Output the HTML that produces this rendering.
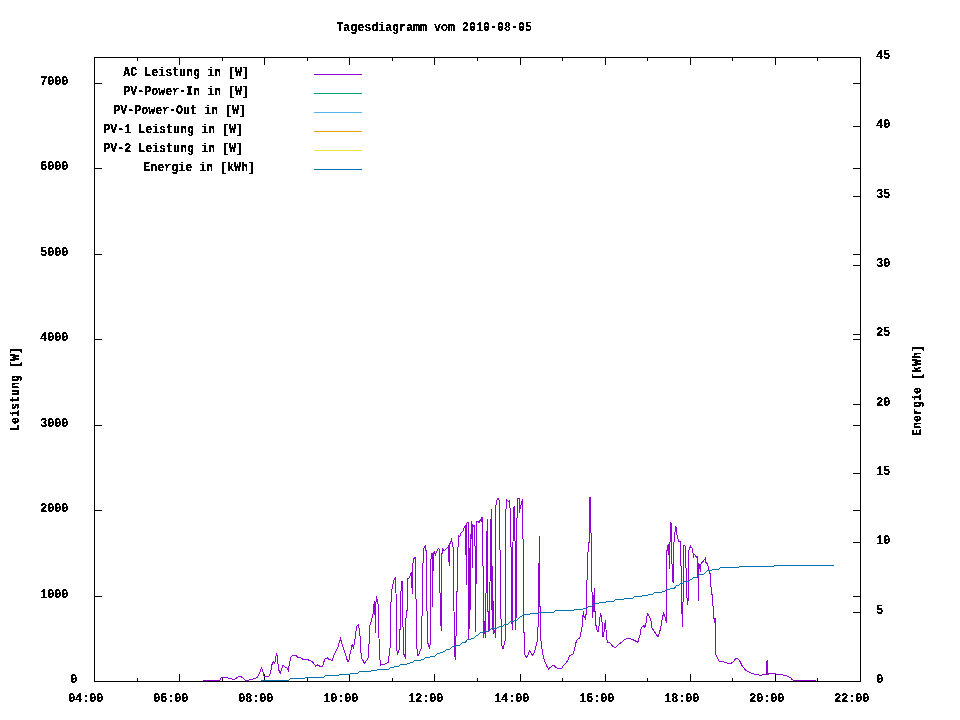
<!DOCTYPE html>
<html><head><meta charset="utf-8"><title>Tagesdiagramm vom 2010-08-05</title>
<style>html,body{margin:0;padding:0;background:#fff;}svg{display:block;}text{font-family:"Liberation Mono",monospace;font-weight:bold;font-size:11.665px;letter-spacing:-0.000px;fill:#000;}</style></head><body>
<svg width="960" height="720" viewBox="0 0 960 720">
<rect x="0" y="0" width="960" height="720" fill="#fff"/>
<path d="M94.5 682 v-8 M94.5 57 v8 M137.5 682 v-4 M137.5 57 v4 M179.5 682 v-8 M179.5 57 v8 M222.5 682 v-4 M222.5 57 v4 M264.5 682 v-8 M264.5 57 v8 M307.5 682 v-4 M307.5 57 v4 M349.5 682 v-8 M349.5 57 v8 M392.5 682 v-4 M392.5 57 v4 M434.5 682 v-8 M434.5 57 v8 M477.5 682 v-4 M477.5 57 v4 M520.5 682 v-8 M520.5 57 v8 M562.5 682 v-4 M562.5 57 v4 M605.5 682 v-8 M605.5 57 v8 M647.5 682 v-4 M647.5 57 v4 M690.5 682 v-8 M690.5 57 v8 M732.5 682 v-4 M732.5 57 v4 M775.5 682 v-8 M775.5 57 v8 M817.5 682 v-4 M817.5 57 v4 M860.5 682 v-8 M860.5 57 v8 M94 681.5 h8 M861 681.5 h-8 M94 596.5 h8 M861 596.5 h-8 M94 510.5 h8 M861 510.5 h-8 M94 425.5 h8 M861 425.5 h-8 M94 339.5 h8 M861 339.5 h-8 M94 254.5 h8 M861 254.5 h-8 M94 168.5 h8 M861 168.5 h-8 M94 83.5 h8 M861 83.5 h-8 M861 681.5 h-8 M861 612.5 h-8 M861 542.5 h-8 M861 473.5 h-8 M861 404.5 h-8 M861 334.5 h-8 M861 265.5 h-8 M861 196.5 h-8 M861 126.5 h-8 M861 57.5 h-8" stroke="#000" stroke-width="1" fill="none" shape-rendering="crispEdges"/>
<rect x="94.5" y="57.5" width="766" height="624" stroke="#000" stroke-width="1" fill="none" shape-rendering="crispEdges"/>
<polyline points="202.50,680.50 219.50,680.50 221.50,677.50 226.50,677.50 229.50,678.50 234.50,679.50 237.50,677.20 240.80,676.20 245.50,680.50 247.50,680.50 252.50,679.20 257.30,677.50 259.20,673.70 261.40,668.10 262.50,669.50 263.90,675.60 264.80,676.60 268.60,676.60 270.50,672.80 271.90,664.80 273.30,661.60 274.70,663.50 275.60,657.80 276.60,653.50 277.50,657.50 278.40,669.10 280.30,673.30 281.70,669.10 283.10,665.30 285.50,667.20 287.30,668.10 288.30,670.50 289.70,662.50 291.10,656.90 292.50,655.50 296.20,655.50 297.60,657.30 300.50,657.80 302.80,659.20 307.50,659.50 309.40,660.60 312.20,661.40 313.60,663.50 315.90,666.20 317.80,664.80 319.70,666.20 322.50,666.20 324.80,659.20 327.20,657.80 329.50,659.70 332.30,660.20 334.20,654.20 337.50,648.30 340.50,638.70 342.50,645.50 345.10,653.20 347.60,661.40 348.80,661.70 350.20,653.20 352.20,644.70 353.60,648.10 354.90,639.70 356.60,626.10 358.50,624.40 359.50,631.20 360.50,639.70 361.20,657.50 364.60,663.40 368.50,657.50 369.70,626.10 372.20,617.60 373.60,610.80 374.20,601.50 375.10,615.90 375.60,632.90 376.10,596.40 376.90,602.40 377.60,599.50 378.50,609.20 379.30,654.90 380.70,665.10 383.20,664.70 388.30,662.50 390.50,643.50 390.80,605.80 391.70,590.50 393.90,580.30 395.10,577.50 395.60,577.20 396.50,612.60 396.80,648.70 397.40,653.70 398.90,650.90 399.70,645.90 400.60,600.50 401.40,582.20 402.60,581.10 402.80,620.50 403.90,654.20 405.50,658.70 405.60,649.80 406.10,610.90 407.20,610.30 407.40,578.90 408.90,578.50 410.50,574.40 411.50,572.80 411.90,583.30 412.20,594.40 412.50,565.60 413.30,561.10 414.40,557.20 415.60,557.20 415.90,598.90 416.70,599.40 416.90,645.90 417.20,655.30 418.60,655.30 420.50,649.80 421.70,647.60 422.20,598.90 423.30,550.50 424.40,546.10 425.60,545.60 425.80,550.60 426.40,550.60 426.80,594.40 427.40,643.10 428.60,644.20 429.40,648.70 430.30,643.10 430.50,596.10 431.10,553.30 432.20,553.30 432.60,606.50 433.20,555.50 433.90,552.80 434.40,552.20 435.50,554.70 436.20,552.60 437.30,550.60 438.30,548.50 439.20,549.20 439.60,570.70 440.30,608.50 441.20,630.50 441.70,557.50 442.40,548.50 443.80,550.60 445.20,549.90 447.30,547.80 448.40,546.40 448.70,554.70 449.20,565.80 449.60,543.60 450.80,542.90 451.40,538.50 452.10,542.20 452.80,543.60 453.50,556.10 454.40,653.90 455.60,659.60 456.30,619.40 457.30,580.50 457.70,556.80 458.40,535.30 459.80,536.50 461.20,532.50 462.30,531.80 463.20,530.40 464.20,527.60 465.30,526.30 465.80,554.70 466.10,524.50 466.40,584.50 466.80,523.50 467.40,522.10 468.20,522.10 468.40,638.60 469.30,624.50 469.80,548.50 470.40,548.50 470.60,609.50 471.10,521.20 471.90,521.90 472.20,567.50 472.60,524.50 473.30,525.30 474.30,528.10 474.90,525.30 475.30,600.50 475.80,631.70 476.30,521.20 477.50,521.90 478.50,521.20 479.10,522.60 480.20,519.80 481.20,521.20 481.90,517.70 482.50,517.50 482.70,565.60 483.10,566.30 483.40,637.60 484.30,620.60 485.20,637.60 486.30,576.70 487.20,519.10 487.70,574.50 488.20,632.40 488.90,615.50 489.50,630.50 490.50,536.40 491.30,509.40 491.60,565.60 492.20,629.80 492.70,565.60 493.30,633.70 494.80,629.80 495.40,637.60 495.80,505.90 496.50,501.50 497.90,498.30 498.80,498.90 499.70,503.10 499.90,540.60 500.20,562.80 500.60,590.60 501.30,637.60 502.20,648.50 503.20,648.50 504.60,642.80 505.20,640.20 505.50,567.50 506.10,499.60 507.50,500.30 508.90,501.70 509.80,500.30 510.30,518.40 510.70,508.70 511.20,568.40 512.10,629.80 512.60,569.80 513.50,509.40 513.70,508.50 514.40,505.90 514.80,525.30 515.40,569.80 515.90,629.80 516.50,569.80 517.20,500.30 517.90,498.30 519.50,498.90 519.60,512.80 520.40,505.90 521.40,504.50 522.30,498.90 522.80,538.50 523.40,539.20 523.80,609.50 524.20,652.50 525.50,655.90 526.80,657.80 528.20,654.60 529.50,650.70 530.80,652.60 532.50,655.20 534.50,652.50 535.30,648.50 536.60,644.10 537.70,637.60 538.20,620.60 538.70,586.40 539.40,536.40 539.80,590.50 540.20,620.50 540.70,638.50 542.50,652.50 543.50,657.50 544.20,659.30 546.40,665.50 548.50,669.20 550.60,667.10 553.50,665.30 554.90,666.40 557.50,668.50 561.50,668.50 563.40,665.70 566.20,662.90 568.30,659.30 569.50,655.80 571.20,655.10 573.30,653.70 574.70,648.50 576.50,640.20 579.50,638.10 580.40,636.50 581.10,631.50 582.50,625.30 583.20,611.20 584.20,618.20 585.50,614.50 585.60,620.40 586.50,608.30 586.50,589.30 587.10,578.60 588.30,543.50 589.10,542.50 589.60,497.50 590.60,497.50 590.60,532.50 591.40,533.50 591.70,591.50 592.60,592.40 592.70,618.20 593.50,602.70 594.50,587.80 595.20,619.70 596.40,628.20 597.40,631.70 598.40,631.70 599.50,621.10 600.60,613.30 601.60,616.80 602.30,625.30 602.60,636.70 603.70,636.70 604.40,626.70 605.40,620.40 606.50,636.70 607.30,642.30 608.70,642.30 610.80,643.70 612.90,646.60 615.10,647.70 617.80,645.20 621.40,642.30 624.90,639.50 628.50,638.10 632.50,639.50 634.80,640.60 637.70,642.50 639.10,638.10 640.50,633.80 641.20,627.50 642.60,626.50 644.50,625.30 644.70,628.20 645.50,624.60 646.20,622.50 646.90,616.80 647.60,613.70 649.50,616.80 650.40,619.50 651.10,621.10 651.80,627.50 654.50,631.70 656.10,634.50 658.20,636.50 659.60,632.40 661.50,623.90 662.40,617.50 663.70,613.40 665.10,617.60 666.30,622.50 666.70,594.50 666.90,550.60 667.50,550.50 668.10,543.80 668.80,545.50 669.30,569.30 670.50,523.10 671.30,523.80 671.50,550.50 672.50,576.30 673.10,582.50 673.50,546.30 674.80,535.50 675.30,526.30 676.50,527.50 676.50,533.80 677.50,536.90 678.80,541.30 680.50,541.90 680.30,565.50 681.50,566.30 681.50,600.50 682.50,626.50 682.70,606.50 683.10,600.50 683.50,545.50 684.40,545.60 685.50,546.30 685.60,567.50 686.50,568.80 686.90,593.80 687.20,604.80 688.50,598.40 688.50,551.30 689.40,548.80 690.60,546.30 691.90,548.10 692.80,548.90 693.30,558.30 693.90,553.90 695.50,555.60 696.10,557.20 697.20,556.70 697.80,562.20 698.30,600.50 698.90,564.40 699.80,565.60 700.20,572.20 700.90,564.40 702.20,562.20 703.90,560.50 705.30,558.30 705.80,562.20 706.70,563.30 707.60,564.40 708.50,567.80 709.40,572.20 710.50,574.40 710.60,584.40 711.70,590.50 712.20,596.70 712.80,605.50 713.40,607.50 714.20,622.70 715.10,617.60 715.30,653.20 716.80,656.60 719.30,661.70 722.70,661.40 724.40,662.20 726.90,662.90 729.50,663.70 732.60,662.60 735.30,659.10 737.10,658.20 739.70,660.80 742.30,666.10 745.90,670.50 749.40,672.30 754.70,674.40 760.90,675.30 764.40,674.50 766.20,674.50 766.70,661.70 767.40,660.80 767.90,674.50 769.70,673.20 774.10,673.50 778.50,674.60 782.90,674.90 786.40,675.80 790.50,677.60 791.70,679.30 793.50,680.50 815.50,680.50" stroke="#9400d3" stroke-width="1" fill="none" shape-rendering="crispEdges"/>
<polyline points="261.0,680.5 288.5,680.5 290.5,678.5 304.5,678.5 305.5,677.5 323.5,677.5 325.5,675.5 338.5,675.5 339.5,674.5 349.5,674.5 350.5,673.5 357.5,673.5 359.5,671.5 370.5,671.5 371.5,670.5 376.5,670.5 377.5,669.5 388.5,669.5 390.5,667.5 393.5,667.5 394.5,666.5 398.5,666.5 400.5,664.5 406.5,664.5 407.5,663.5 409.5,663.5 410.5,662.5 412.5,662.5 414.5,660.5 420.5,660.5 421.5,659.5 423.5,659.5 425.5,657.5 429.5,657.5 430.5,656.5 434.5,656.5 435.5,655.5 435.5,655.5 437.5,653.5 439.5,653.5 440.5,652.5 442.5,652.5 443.5,651.5 444.5,651.5 446.5,649.5 449.5,649.5 450.5,648.5 450.5,648.5 452.5,646.5 455.5,646.5 456.5,645.5 459.5,645.5 460.5,644.5 460.5,644.5 462.5,642.5 465.5,642.5 466.5,641.5 465.5,641.5 467.5,639.5 470.5,639.5 471.5,638.5 473.5,638.5 474.5,637.5 474.5,637.5 476.5,635.5 477.5,635.5 478.5,634.5 478.5,634.5 480.5,632.5 483.5,632.5 484.5,631.5 487.5,631.5 488.5,630.5 489.5,630.5 490.5,629.5 490.5,629.5 491.5,628.5 496.5,628.5 497.5,627.5 498.5,627.5 499.5,626.5 502.5,626.5 504.5,624.5 507.5,624.5 508.5,623.5 508.5,623.5 510.5,621.5 513.5,621.5 514.5,620.5 516.5,620.5 518.5,618.5 518.5,618.5 520.5,616.5 521.5,616.5 523.5,614.5 529.5,614.5 530.5,613.5 538.5,613.5 539.5,612.5 553.5,612.5 555.5,610.5 573.5,610.5 574.5,609.5 582.5,609.5 583.5,608.5 586.5,608.5 588.5,606.5 591.5,606.5 592.5,605.5 592.5,605.5 594.5,603.5 598.5,603.5 599.5,602.5 605.5,602.5 606.5,601.5 613.5,601.5 615.5,599.5 623.5,599.5 624.5,598.5 632.5,598.5 634.5,596.5 641.5,596.5 642.5,595.5 647.5,595.5 648.5,594.5 652.5,594.5 654.5,592.5 661.5,592.5 662.5,591.5 664.5,591.5 666.5,589.5 669.5,589.5 670.5,588.5 674.5,588.5 675.5,587.5 674.5,587.5 676.5,585.5 678.5,585.5 679.5,584.5 679.5,584.5 680.5,583.5 682.5,583.5 684.5,581.5 688.5,581.5 690.5,579.5 691.5,579.5 693.5,577.5 696.5,577.5 697.5,576.5 697.5,576.5 699.5,574.5 703.5,574.5 705.5,572.5 705.5,572.5 707.5,570.5 711.5,570.5 712.5,569.5 718.5,569.5 720.5,567.5 738.5,567.5 739.5,566.5 773.5,566.5 774.5,565.5 834.0,565.5" stroke="#0072b2" stroke-width="1" fill="none" shape-rendering="crispEdges"/>
<defs><filter id="crisp" x="0" y="0" width="960" height="720" filterUnits="userSpaceOnUse"><feComponentTransfer in="SourceGraphic" result="a"><feFuncA type="discrete" tableValues="0 1 1"/></feComponentTransfer><feOffset in="a" dx="0" dy="0" result="b"/><feMerge><feMergeNode in="a"/><feMergeNode in="b"/></feMerge></filter></defs>
<g filter="url(#crisp)">
<text transform="translate(123.20,76.00) scale(1,1.020)">AC Leistung in [W]</text>
<path d="M314 74.5 H362" stroke="#9400d3" stroke-width="1" shape-rendering="crispEdges"/>
<text transform="translate(123.20,95.00) scale(1,1.020)">PV-Power-In in [W]</text>
<path d="M314 93.5 H362" stroke="#009e73" stroke-width="1" shape-rendering="crispEdges"/>
<text transform="translate(113.20,114.00) scale(1,1.020)">PV-Power-Out in [W]</text>
<path d="M314 112.5 H362" stroke="#56b4e9" stroke-width="1" shape-rendering="crispEdges"/>
<text transform="translate(103.20,133.00) scale(1,1.020)">PV-1 Leistung in [W]</text>
<path d="M314 131.5 H362" stroke="#e69f00" stroke-width="1" shape-rendering="crispEdges"/>
<text transform="translate(103.20,152.00) scale(1,1.020)">PV-2 Leistung in [W]</text>
<path d="M314 150.5 H362" stroke="#f0e442" stroke-width="1" shape-rendering="crispEdges"/>
<text transform="translate(143.20,171.00) scale(1,1.020)">Energie in [kWh]</text>
<path d="M314 169.5 H362" stroke="#0072b2" stroke-width="1" shape-rendering="crispEdges"/>
<text transform="translate(336.20,31.00) scale(1,1.020)">Tagesdiagramm vom 2010-08-05</text>
<text transform="translate(70.20,683.00) scale(1,1.020)">0</text>
<text transform="translate(40.20,598.00) scale(1,1.020)">1000</text>
<text transform="translate(40.20,512.00) scale(1,1.020)">2000</text>
<text transform="translate(40.20,427.00) scale(1,1.020)">3000</text>
<text transform="translate(40.20,341.00) scale(1,1.020)">4000</text>
<text transform="translate(40.20,256.00) scale(1,1.020)">5000</text>
<text transform="translate(40.20,170.00) scale(1,1.020)">6000</text>
<text transform="translate(40.20,85.00) scale(1,1.020)">7000</text>
<text transform="translate(876.20,683.00) scale(1,1.020)">0</text>
<text transform="translate(876.20,614.00) scale(1,1.020)">5</text>
<text transform="translate(876.20,544.00) scale(1,1.020)">10</text>
<text transform="translate(876.20,475.00) scale(1,1.020)">15</text>
<text transform="translate(876.20,406.00) scale(1,1.020)">20</text>
<text transform="translate(876.20,336.00) scale(1,1.020)">25</text>
<text transform="translate(876.20,267.00) scale(1,1.020)">30</text>
<text transform="translate(876.20,198.00) scale(1,1.020)">35</text>
<text transform="translate(876.20,128.00) scale(1,1.020)">40</text>
<text transform="translate(876.20,59.00) scale(1,1.020)">45</text>
<text transform="translate(68.20,702.00) scale(1,1.020)">04:00</text>
<text transform="translate(153.20,702.00) scale(1,1.020)">06:00</text>
<text transform="translate(238.20,702.00) scale(1,1.020)">08:00</text>
<text transform="translate(323.20,702.00) scale(1,1.020)">10:00</text>
<text transform="translate(408.20,702.00) scale(1,1.020)">12:00</text>
<text transform="translate(494.20,702.00) scale(1,1.020)">14:00</text>
<text transform="translate(579.20,702.00) scale(1,1.020)">16:00</text>
<text transform="translate(664.20,702.00) scale(1,1.020)">18:00</text>
<text transform="translate(749.20,702.00) scale(1,1.020)">20:00</text>
<text transform="translate(834.20,702.00) scale(1,1.020)">22:00</text>
<text transform="translate(19,431) rotate(-90) scale(1,1.020)" x="0" y="0">Leistung [W]</text>
<text transform="translate(921,436) rotate(-90) scale(1,1.020)" x="0" y="0">Energie [kWh]</text>
</g>
</svg>
</body></html>
